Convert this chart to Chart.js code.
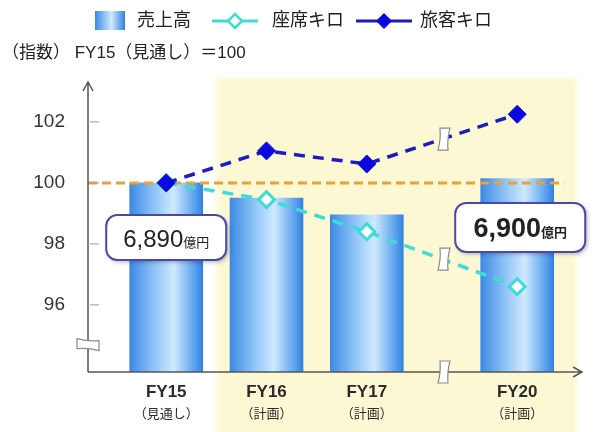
<!DOCTYPE html>
<html>
<head>
<meta charset="utf-8">
<script src="https://cdn.jsdelivr.net/npm/chart.js@4"></script>
<style>
  html, body { margin: 0; padding: 0; background: #ffffff; }
  #wrap { position: relative; width: 593px; height: 432px; }
</style>
</head>
<body>
<div id="wrap"><canvas id="salesChart" width="593" height="432"></canvas></div>
<script>
// Index values, FY15 (見通し) = 100
const categories = ['FY15', 'FY16', 'FY17', 'FY20'];
const categorySubs = ['（見通し）', '（計画）', '（計画）', '（計画）'];
const xPositions = [0, 1, 2, 3.5];          // FY18-19 skipped, hence the gap
const salesAmount = [6890, null, null, 6900]; // 億円
const salesIndex = [100, 99.5, 98.95, 6900 / 6890 * 100];
const seatKm = [100, 99.45, 98.4, 96.6];
const passengerKm = [100, 101.05, 100.62, 102.25];
const yTicks = [96, 98, 100, 102];
const baseIndex = 100;

const Y_MIN = 93.8, Y_MAX = 103.21;
const X_MIN = -0.78, X_MAX = 4.146;
const FONT = '"Liberation Sans", "Noto Sans CJK JP", sans-serif';

const pts = arr => xPositions.map((x, i) => ({ x, y: arr[i] }));

function barGradient(ctx) {
  const chart = ctx.chart;
  const xs = chart.scales.x;
  if (!xs || !ctx.raw) return '#5aa0f0';
  const cx = xs.getPixelForValue(ctx.raw.x);
  if (!isFinite(cx)) return '#5aa0f0';
  const g = chart.ctx.createLinearGradient(cx - 37, 0, cx + 37, 0);
  g.addColorStop(0, '#3a88e4');
  g.addColorStop(0.3, '#86bef5');
  g.addColorStop(0.6, '#d0e9ff');
  g.addColorStop(0.85, '#68aaf0');
  g.addColorStop(1, '#2f80e2');
  return g;
}

function drawBreak(c, x, y, vertical) {
  c.save();
  c.translate(x, y);
  if (!vertical) c.rotate(-Math.PI / 2);
  c.beginPath();
  c.moveTo(-4, -11);
  c.lineTo(6, -11);
  c.quadraticCurveTo(3, 0, 4, 11);
  c.lineTo(-6, 11);
  c.quadraticCurveTo(-3, 0, -4, -11);
  c.closePath();
  c.fillStyle = '#ffffff';
  c.fill();
  c.strokeStyle = '#8a8a8a';
  c.lineWidth = 1.2;
  c.stroke();
  c.restore();
}

function roundBox(c, x, y, w, h, r) {
  c.beginPath();
  c.moveTo(x + r, y);
  c.arcTo(x + w, y, x + w, y + h, r);
  c.arcTo(x + w, y + h, x, y + h, r);
  c.arcTo(x, y + h, x, y, r);
  c.arcTo(x, y, x + w, y, r);
  c.closePath();
}

function diamond(c, x, y, r) {
  c.beginPath();
  c.moveTo(x, y - r);
  c.lineTo(x + r, y);
  c.lineTo(x, y + r);
  c.lineTo(x - r, y);
  c.closePath();
}

// background panel for the plan years
const panelPlugin = {
  id: 'panel',
  beforeDraw(chart) {
    const c = chart.ctx, xs = chart.scales.x;
    const left = xs.getPixelForValue(0.5);
    c.save();
    c.filter = 'blur(2px)';
    c.fillStyle = '#fdf8d4';
    c.fillRect(left, 78, 577 - left, 360);
    c.restore();
  }
};

// axes, breaks, value boxes, legend and captions
const decorPlugin = {
  id: 'decor',
  afterDraw(chart) {
    const c = chart.ctx, xs = chart.scales.x, ys = chart.scales.y;
    const a = chart.chartArea;
    c.save();

    // axes with arrowheads
    c.strokeStyle = '#555555';
    c.lineWidth = 1.5;
    c.beginPath();
    c.moveTo(a.left, a.bottom);
    c.lineTo(a.left, a.top - 3);
    c.moveTo(a.left, a.bottom);
    c.lineTo(a.right, a.bottom);
    c.moveTo(a.left - 5, a.top + 6);
    c.lineTo(a.left, a.top - 3);
    c.lineTo(a.left + 5, a.top + 6);
    c.moveTo(a.right - 9, a.bottom - 5);
    c.lineTo(a.right, a.bottom);
    c.lineTo(a.right - 9, a.bottom + 5);
    c.stroke();

    // inner tick marks
    c.strokeStyle = '#999999';
    c.lineWidth = 1;
    yTicks.forEach(v => {
      const y = ys.getPixelForValue(v);
      c.beginPath();
      c.moveTo(a.left + 2, y);
      c.lineTo(a.left + 11, y);
      c.stroke();
    });

    // x labels
    c.fillStyle = '#2a2a2a';
    c.textAlign = 'center';
    c.textBaseline = 'middle';
    categories.forEach((t, i) => {
      const x = xs.getPixelForValue(xPositions[i]);
      c.font = 'bold 17px ' + FONT;
      c.fillText(t, x, 392);
      c.font = '13px ' + FONT;
      c.fillText(categorySubs[i], x, 414);
    });

    // breaks between FY17 and FY20
    const bx = (xPositions[2] + xPositions[3]) / 2;
    const px = xs.getPixelForValue(bx);
    [passengerKm, seatKm].forEach(s => {
      const y = ys.getPixelForValue((s[2] + s[3]) / 2);
      drawBreak(c, px + 2, y, true);
    });
    drawBreak(c, px + 2, a.bottom, true);
    drawBreak(c, a.left, ys.getPixelForValue(94.7), false);

    // value boxes
    const boxes = [
      { i: 0, w: 120, h: 45, dx: 0, cy: 237.5, bold: false },
      { i: 3, w: 130, h: 49, dx: 3, cy: 227.5, bold: true }
    ];
    boxes.forEach(b => {
      const cx = xs.getPixelForValue(xPositions[b.i]) + b.dx;
      const x = cx - b.w / 2, y = b.cy - b.h / 2;
      c.save();
      c.shadowColor = 'rgba(0,0,0,0.3)';
      c.shadowBlur = 4;
      c.shadowOffsetX = 2;
      c.shadowOffsetY = 2;
      roundBox(c, x, y, b.w, b.h, 11);
      c.fillStyle = '#ffffff';
      c.fill();
      c.restore();
      roundBox(c, x, y, b.w, b.h, 11);
      c.strokeStyle = '#4b48ad';
      c.lineWidth = 2;
      c.stroke();

      const num = salesAmount[b.i].toLocaleString('en-US');
      const big = (b.bold ? 'bold 27px ' : '24px ') + FONT;
      const small = (b.bold ? 'bold 13px ' : '13px ') + FONT;
      c.font = big;
      const w1 = c.measureText(num).width;
      c.font = small;
      const w2 = c.measureText('億円').width;
      const sx = cx - (w1 + w2) / 2;
      c.textAlign = 'left';
      c.textBaseline = 'alphabetic';
      c.fillStyle = '#222222';
      c.font = big;
      c.fillText(num, sx, b.cy + 9);
      c.font = small;
      c.fillText('億円', sx + w1, b.cy + 9);
    });

    // legend
    const lg = c.createLinearGradient(95, 0, 125, 0);
    lg.addColorStop(0, '#3a88e4');
    lg.addColorStop(0.55, '#d0e9ff');
    lg.addColorStop(1, '#2f80e2');
    c.fillStyle = lg;
    c.fillRect(95, 11, 30, 19);

    c.lineWidth = 3;
    c.strokeStyle = '#3fdcd6';
    c.beginPath(); c.moveTo(212, 21); c.lineTo(258, 21); c.stroke();
    diamond(c, 235, 21, 7);
    c.fillStyle = '#ffffff'; c.fill();
    c.lineWidth = 2.5; c.stroke();

    c.lineWidth = 3;
    c.strokeStyle = '#1c1cc0';
    c.beginPath(); c.moveTo(356, 21); c.lineTo(412, 21); c.stroke();
    diamond(c, 384, 21, 8);
    c.fillStyle = '#0a0ae0'; c.fill();

    c.fillStyle = '#222222';
    c.textAlign = 'left';
    c.textBaseline = 'middle';
    c.font = '18px ' + FONT;
    c.fillText('売上高', 137, 21);
    c.fillText('座席キロ', 272, 21);
    c.fillText('旅客キロ', 420, 21);

    c.font = '17px ' + FONT;
    c.fillText('（指数） FY15（見通し）＝100', 2, 53);

    c.restore();
  }
};

new Chart(document.getElementById('salesChart'), {
  type: 'bar',
  data: {
    datasets: [
      {
        type: 'line',
        label: '旅客キロ',
        data: pts(passengerKm),
        borderColor: '#1c1cc0',
        borderWidth: 3.5,
        borderDash: [11, 8],
        pointStyle: 'rectRot',
        pointRadius: 9,
        pointBackgroundColor: '#0a0ae0',
        pointBorderColor: '#0a0ae0',
        pointBorderWidth: 1,
        order: 1
      },
      {
        type: 'line',
        label: '座席キロ',
        data: pts(seatKm),
        borderColor: '#3fdcd6',
        borderWidth: 3.5,
        borderDash: [11, 8],
        pointStyle: 'rectRot',
        pointRadius: 8,
        pointBackgroundColor: '#ffffff',
        pointBorderColor: '#3fdcd6',
        pointBorderWidth: 3,
        order: 2
      },
      {
        type: 'line',
        label: '基準',
        data: [{ x: X_MIN, y: baseIndex }, { x: 3.97, y: baseIndex }],
        borderColor: '#f0a030',
        borderWidth: 3,
        borderDash: [9, 5],
        pointRadius: 0,
        order: 3
      },
      {
        type: 'bar',
        label: '売上高',
        data: pts(salesIndex),
        backgroundColor: barGradient,
        barThickness: 73,
        base: Y_MIN,
        order: 4
      }
    ]
  },
  options: {
    responsive: false,
    animation: false,
    layout: { padding: { left: 0, right: 5, top: 85, bottom: 60 } },
    plugins: { legend: { display: false }, tooltip: { enabled: false } },
    scales: {
      x: { type: 'linear', min: X_MIN, max: X_MAX, offset: false, display: false },
      y: {
        type: 'linear', min: Y_MIN, max: Y_MAX, display: true,
        afterBuildTicks: s => { s.ticks = yTicks.map(v => ({ value: v })); },
        afterFit: s => { s.width = 88; },
        grid: { display: false },
        border: { display: false },
        ticks: { color: '#333333', font: { size: 19, family: FONT }, padding: 15 }
      }
    }
  },
  plugins: [panelPlugin, decorPlugin]
});
</script>
</body>
</html>
